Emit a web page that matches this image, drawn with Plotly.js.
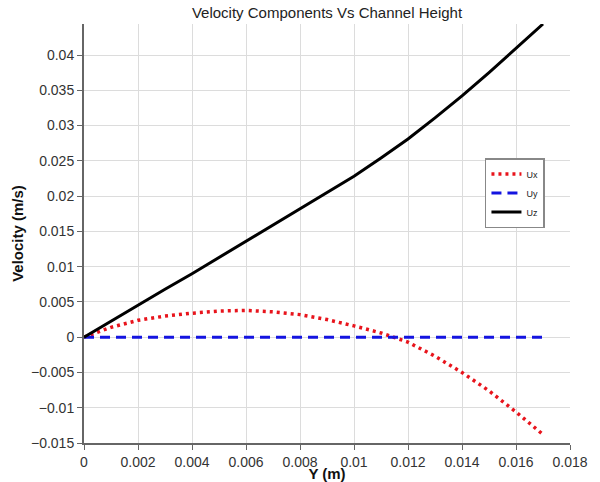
<!DOCTYPE html>
<html>
<head>
<meta charset="utf-8">
<script src="https://cdn.plot.ly/plotly-3.0.1.min.js"></script>
<style>html,body{margin:0;padding:0;background:#fff;}#chart{width:600px;height:482px;}</style>
</head>
<body>
<div id="chart"></div>
<script>
const yPos = [0, 0.001, 0.002, 0.003, 0.004, 0.005, 0.006, 0.007, 0.008, 0.009, 0.010, 0.011, 0.012, 0.013, 0.014, 0.015, 0.016, 0.017];
const ux = [0, 0.0014, 0.0024, 0.0030, 0.0034, 0.0037, 0.0038, 0.0036, 0.0032, 0.0025, 0.0016, 0.0006, -0.0007, -0.0027, -0.0050, -0.0076, -0.0106, -0.0138];
const uy = [0, 0, 0, 0, 0, 0, 0, 0, 0, 0, 0, 0, 0, 0, 0, 0, 0, 0];
const uz = [0, 0.0023, 0.0046, 0.0068, 0.0090, 0.0113, 0.0136, 0.0158, 0.0181, 0.0204, 0.0228, 0.0254, 0.0281, 0.0311, 0.0342, 0.0375, 0.0409, 0.0444];
const names = ["Ux", "Uy", "Uz"];

const font = "Liberation Sans, Arial, sans-serif";
const traces = [
  {x: yPos, y: ux, name: names[0], mode: "lines", line: {color: "#e8141c", width: 3.5, dash: "3px,4px"}},
  {x: yPos, y: uy, name: names[1], mode: "lines", line: {color: "#1414e0", width: 3, dash: "10px,6px"}},
  {x: yPos, y: uz, name: names[2], mode: "lines", line: {color: "#000000", width: 3}}
];
const layout = {
  width: 600, height: 482,
  margin: {l: 84, r: 30, t: 24, b: 39},
  paper_bgcolor: "#fff", plot_bgcolor: "#fff",
  font: {family: font, color: "#333", size: 14},
  title: {text: "Velocity Components Vs Channel Height", font: {family: font, size: 15, color: "#222"}, x: 0.545, xanchor: "center", y: 0.985, yanchor: "top"},
  xaxis: {
    range: [0, 0.018], dtick: 0.002, tick0: 0,
    showgrid: true, gridcolor: "#dcdcdc", gridwidth: 1,
    zeroline: false, showline: true, linecolor: "#666", linewidth: 2,
    ticks: "outside", ticklen: 5, tickcolor: "#666",
    tickfont: {size: 14, color: "#333"},
    title: {text: "<b>Y (m)</b>", font: {size: 15, color: "#111"}, standoff: 2}
  },
  yaxis: {
    range: [-0.015, 0.0444], dtick: 0.005, tick0: 0,
    showgrid: true, gridcolor: "#dcdcdc", gridwidth: 1,
    zeroline: false, showline: true, linecolor: "#666", linewidth: 2,
    ticks: "outside", ticklen: 5, tickcolor: "#666",
    tickfont: {size: 14, color: "#333"},
    title: {text: "<b>Velocity (m/s)</b>", font: {size: 15, color: "#111"}, standoff: 4}
  },
  showlegend: true,
  legend: {
    x: 0.825, y: 0.68, xanchor: "left", yanchor: "top",
    bgcolor: "#fff", bordercolor: "#888", borderwidth: 1.5,
    font: {size: 9, color: "#222"}, itemwidth: 30, tracegroupgap: 0
  }
};
Plotly.newPlot("chart", traces, layout, {displayModeBar: false, staticPlot: true});
</script>
</body>
</html>
